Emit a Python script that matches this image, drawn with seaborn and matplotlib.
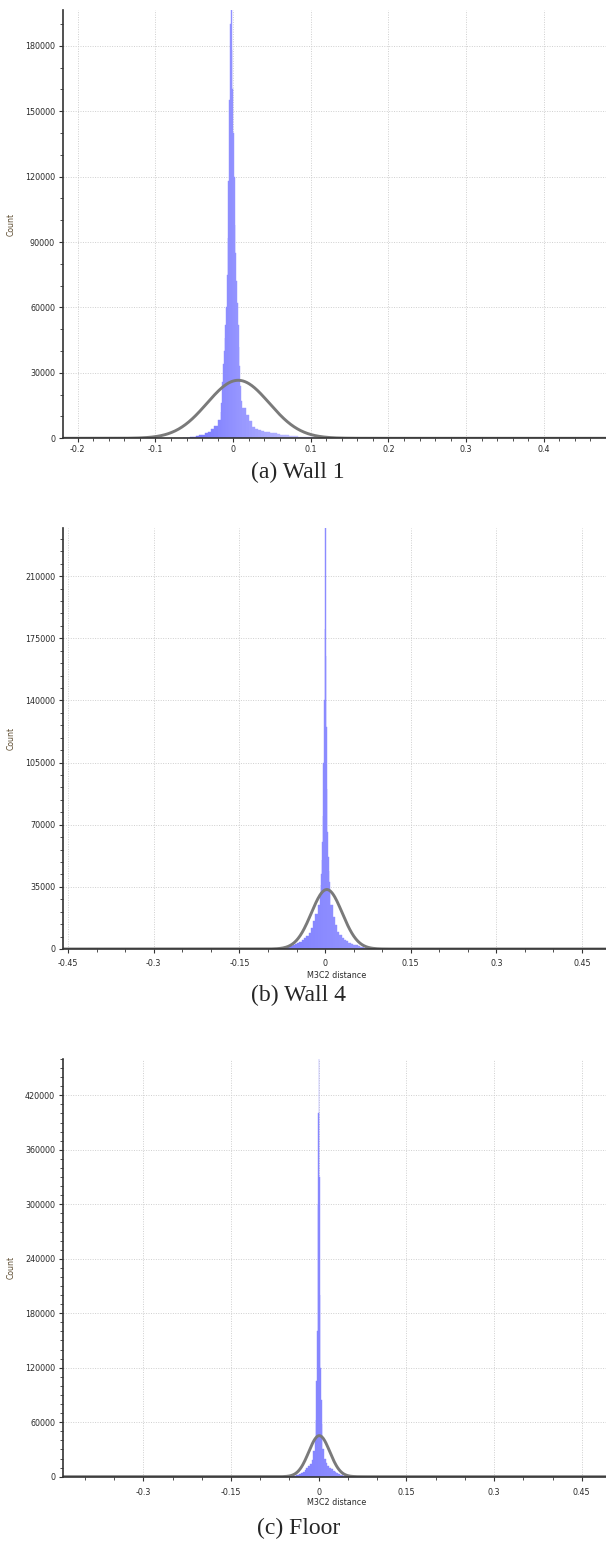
import matplotlib
matplotlib.use("Agg")
import matplotlib.pyplot as plt
import matplotlib.ticker as mticker
import numpy as np
import pandas as pd
import seaborn as sns
from matplotlib.colors import to_rgb

sns.set_style("white")
plt.rcParams["font.family"] = ["DejaVu Sans"]

# ---------------------------------------------------------------------
# data
# each histogram = coarse left tail + fine core + coarse right tail
# (start of segment, bin width, counts per bin)
# ---------------------------------------------------------------------
wall1_left = [150, 300, 500, 700, 1000, 1300, 1700, 2200, 3000, 4200, 5800, 8500]
wall1_core = [12000, 16000, 26000, 34000, 40000, 46000, 52000, 60000, 75000, 92000,
              118000, 155000, 190000, 215000, 178000, 160000, 140000, 120000, 98000, 85000,
              72000, 62000, 52000, 42000, 33000, 24000, 17000, 14000]
wall1_right = [14000, 10500, 8000, 5000, 4200, 3700, 3400, 3100, 2800, 2500, 2200, 1900,
               1700, 1500, 1300, 1150, 1000, 900, 800, 700, 600, 500, 400, 300, 250, 200, 150]

wall4_left = [200, 500, 800, 1100, 1400, 1800, 2200, 2700, 3300, 4000, 5000, 6000,
              7300, 9200, 12000, 15500, 19500, 25000]
wall4_core = [30000, 36000, 42000, 50000, 60000, 75000, 105000, 140000, 180000, 245000,
              165000, 125000, 90000, 66000, 52000, 44000, 38000, 32000]
wall4_right = [25000, 18000, 13500, 9800, 7800, 6300, 5200, 4300, 3500, 2900, 2400, 2000,
               1600, 1300, 1000, 700, 450, 200]

floor_left = [300, 800, 1500, 2200, 3000, 4000, 5500, 7500, 9500, 11500, 14000, 18000, 28000]
floor_core = [42000, 62000, 105000, 160000, 300000, 400000, 470000, 330000, 200000,
              120000, 85000, 58000]
floor_right = [30000, 19000, 15000, 12000, 10000, 8000, 6800, 5500, 4200, 3200, 2300,
               1600, 1000, 500]

# fitted normal curves (mean, std, peak height)
wall1_fit = (0.0065, 0.040, 26600)
wall4_fit = (0.003, 0.027, 33500)
floor_fit = (0.001, 0.018, 45200)

captions = ["(a) Wall 1", "(b) Wall 4", "(c) Floor"]


def build(segments):
    edges, counts = [], []
    for start, step, vals in segments:
        e = list(start + step * np.arange(len(vals) + 1))
        edges.extend(e[1:] if edges else e)
        counts.extend(vals)
    edges = [round(float(v), 5) for v in edges]
    centers = [(edges[i] + edges[i + 1]) / 2 for i in range(len(edges) - 1)]
    return edges, pd.DataFrame({"dist": centers, "count": counts})


def fmt(v, _):
    return "%g" % round(v, 4)


def panel(ax, segments, fit, c0, c1, xlim, ylim, xstep, xminor, ystep, yminor,
          xlabel, tickpad):
    edges, df = build(segments)
    sns.histplot(data=df, x="dist", weights="count", bins=edges, ax=ax,
                 element="bars", color=c0, alpha=1, linewidth=0, zorder=2)
    lo, hi = edges[0], edges[-1]
    a, b = np.array(to_rgb(c0)), np.array(to_rgb(c1))
    for p in ax.patches:
        t = (p.get_x() + p.get_width() / 2 - lo) / (hi - lo)
        col = (1 - t) * a + t * b
        p.set_facecolor(col)
        p.set_edgecolor(col)
        p.set_linewidth(0.3)

    mu, sd, peak = fit
    xs = np.linspace(xlim[0], xlim[1], 800)
    ys = peak * np.exp(-0.5 * ((xs - mu) / sd) ** 2)
    sns.lineplot(x=xs, y=ys, ax=ax, color="#7a7a7a", linewidth=2.1, zorder=3)

    ax.set_xlim(*xlim)
    ax.set_ylim(*ylim)
    ax.xaxis.set_major_locator(mticker.MultipleLocator(xstep))
    ax.xaxis.set_minor_locator(mticker.MultipleLocator(xminor))
    ax.yaxis.set_major_locator(mticker.MultipleLocator(ystep))
    ax.yaxis.set_minor_locator(mticker.MultipleLocator(yminor))
    ax.xaxis.set_major_formatter(mticker.FuncFormatter(fmt))
    ax.yaxis.set_major_formatter(mticker.FuncFormatter(lambda v, _: "%d" % v))

    ax.grid(True, which="major", color="#cfcfcf", linestyle=(0, (1, 1.5)), linewidth=0.7)
    ax.set_axisbelow(True)
    for s in ["top", "right"]:
        ax.spines[s].set_visible(False)
    for s in ["left", "bottom"]:
        ax.spines[s].set_color("#333333")
        ax.spines[s].set_linewidth(1.2)
        ax.spines[s].set_zorder(4)

    ax.tick_params(which="both", bottom=True, left=True, top=False, right=False)
    ax.tick_params(which="major", direction="out", length=3.2, width=0.8,
                   colors="#333333", labelsize=5.8, labelcolor="#2a2a2a")
    ax.tick_params(which="minor", direction="out", length=2, width=0.6, colors="#333333")
    ax.tick_params(axis="x", which="major", pad=tickpad)
    ax.tick_params(axis="y", which="major", pad=2.5)

    ax.set_ylabel("Count", fontsize=5.6, color="#5b4a2e")
    ax.yaxis.set_label_coords(-0.087, 0.5)
    ax.set_xlabel(xlabel, fontsize=5.8, color="#2a2a2a")
    ax.xaxis.set_label_coords(0.503, -0.052)


fig = plt.figure(figsize=(6.06, 15.41), dpi=100)
left, width = 63 / 606, 543 / 606

ax1 = fig.add_axes([left, 0.71558, width, 0.27794])
panel(ax1, [(-0.064, 0.004, wall1_left), (-0.016, 0.001, wall1_core),
            (0.012, 0.004, wall1_right)],
      wall1_fit, "#6e6eff", "#d4d4ff", (-0.219, 0.480), (0, 196400),
      0.1, 0.02, 30000, 10000, "", 1.4)

ax2 = fig.add_axes([left, 0.38417, width, 0.27301])
panel(ax2, [(-0.081, 0.004, wall4_left), (-0.009, 0.001, wall4_core),
            (0.009, 0.004, wall4_right)],
      wall4_fit, "#7c7cff", "#9a9aff", (-0.459, 0.492), (0, 237000),
      0.15, 0.05, 35000, 7000, "M3C2 distance", 4.3)

ax3 = fig.add_axes([left, 0.04173, width, 0.27106])
panel(ax3, [(-0.045, 0.003, floor_left), (-0.006, 0.001, floor_core),
            (0.006, 0.003, floor_right)],
      floor_fit, "#7e7eff", "#9090ff", (-0.4375, 0.4915), (0, 460000),
      0.15, 0.05, 60000, 10000, "M3C2 distance", 4.6)

for txt, y in zip(captions, [0.6937, 0.3537, 0.0084]):
    fig.text(0.492, y, txt, ha="center", va="center", fontsize=17,
             family=["Liberation Serif", "DejaVu Serif"])

fig.savefig("out.png", dpi=100)
plt.close(fig)
